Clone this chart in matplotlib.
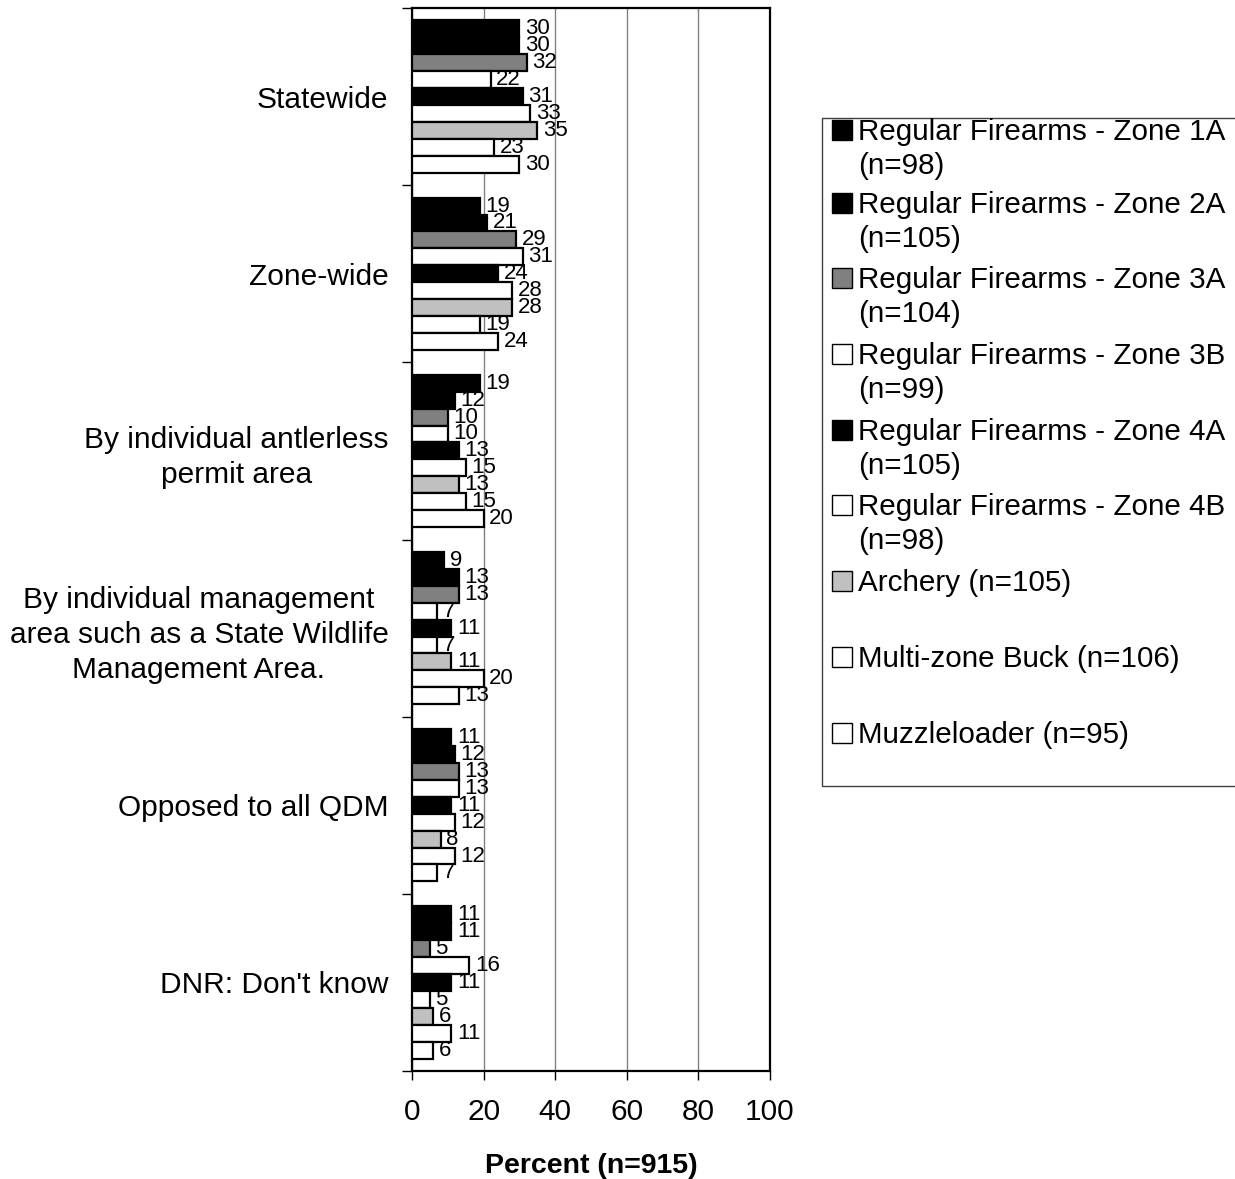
import numpy as np
import matplotlib
matplotlib.use("Agg")
import matplotlib.pyplot as plt
from matplotlib.patches import Rectangle

plt.rcParams['font.family'] = ['Liberation Sans', 'DejaVu Sans']

# categories (top to bottom)
categories = [
    "Statewide",
    "Zone-wide",
    "By individual antlerless\npermit area",
    "By individual management\narea such as a State Wildlife\nManagement Area.",
    "Opposed to all QDM",
    "DNR: Don't know",
]

series_names = [
    "Regular Firearms - Zone 1A\n(n=98)",
    "Regular Firearms - Zone 2A\n(n=105)",
    "Regular Firearms - Zone 3A\n(n=104)",
    "Regular Firearms - Zone 3B\n(n=99)",
    "Regular Firearms - Zone 4A\n(n=105)",
    "Regular Firearms - Zone 4B\n(n=98)",
    "Archery (n=105)",
    "Multi-zone Buck (n=106)",
    "Muzzleloader (n=95)",
]
series_colors = ["#000000", "#000000", "#808080", "#ffffff", "#000000",
                 "#ffffff", "#c0c0c0", "#ffffff", "#ffffff"]

zone_1a = [30, 19, 19, 9, 11, 11]
zone_2a = [30, 21, 12, 13, 12, 11]
zone_3a = [32, 29, 10, 13, 13, 5]
zone_3b = [22, 31, 10, 7, 13, 16]
zone_4a = [31, 24, 13, 11, 11, 11]
zone_4b = [33, 28, 15, 7, 12, 5]
archery = [35, 28, 13, 11, 8, 6]
multi_zone = [23, 19, 15, 20, 12, 11]
muzzleloader = [30, 24, 20, 13, 7, 6]

all_series = [zone_1a, zone_2a, zone_3a, zone_3b, zone_4a, zone_4b,
              archery, multi_zone, muzzleloader]

W, H = 1235, 1179
fig = plt.figure(figsize=(W / 100, H / 100), dpi=100)
ax = fig.add_axes([412 / W, 1 - 1071 / H, (770 - 412) / W, (1071 - 8) / H])

n_cat = len(categories)
n_ser = len(all_series)
bar_h = 0.0955
centers = np.arange(n_cat) + 0.5  # group centers, y inverted later

for i, vals in enumerate(all_series):
    y = centers + (i - (n_ser - 1) / 2) * bar_h
    ax.barh(y, vals, height=bar_h, color=series_colors[i], edgecolor='black',
            linewidth=1.6, zorder=3)
    for yy, v in zip(y, vals):
        ax.annotate(str(v), (v, yy), xytext=(4, 0), textcoords='offset points',
                    va='center', ha='left', fontsize=16, zorder=4)

ax.set_xlim(0, 100)
ax.set_ylim(n_cat, 0)
ax.set_xticks(np.arange(0, 101, 20))
ax.tick_params(axis='x', labelsize=21.5, length=6.5, width=1.0, direction='out', pad=13)
ax.grid(axis='x', color='#808080', linewidth=1.0, zorder=0)

ax.set_yticks(np.arange(n_cat + 1))
ax.set_yticklabels([])
ax.set_yticks(centers, minor=True)
ax.set_yticklabels(categories, minor=True, fontsize=21.5, multialignment='center',
                   linespacing=1.32)
ax.tick_params(axis='y', which='major', length=7, width=1.0, direction='out')
ax.tick_params(axis='y', which='minor', length=0, pad=17)

for s in ax.spines.values():
    s.set_linewidth(1.6)
    s.set_color('black')

fig.text(591 / W, 1 - 1173 / H, "Percent (n=915)", fontsize=20.5, fontweight='bold',
         ha='center', va='baseline')

# legend box drawn by hand
fig.patches.append(Rectangle((822 / W, 1 - 786 / H), (W + 10 - 822) / W, (786 - 118) / H,
                             transform=fig.transFigure, facecolor='white',
                             edgecolor='#404040', linewidth=1.0, zorder=1))
leg_y = [130, 203, 278, 354, 430, 505, 581, 657, 733]
for name, col, ly in zip(series_names, series_colors, leg_y):
    fig.patches.append(Rectangle((832 / W, 1 - (ly + 10) / H), 20 / W, 20 / H,
                                 transform=fig.transFigure, facecolor=col,
                                 edgecolor='black', linewidth=1.0, zorder=2))
    for k, line in enumerate(name.split("\n")):
        fig.text(858 / W, 1 - (ly + 10 + 34 * k) / H, line, fontsize=21.3,
                 va='baseline', ha='left', zorder=3)

fig.savefig("out.png", dpi=100)
